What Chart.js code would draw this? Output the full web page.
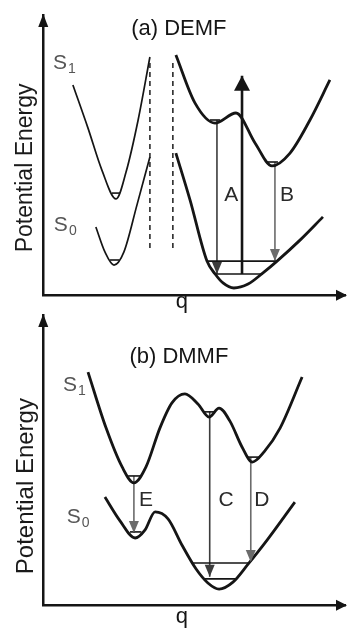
<!DOCTYPE html>
<html>
<head>
<meta charset="utf-8">
<script src="https://cdn.jsdelivr.net/npm/chart.js@4/dist/chart.umd.min.js"></script>
<style>
  html, body { margin: 0; padding: 0; background: #fff; }
  #page { position: relative; width: 347px; height: 628px; overflow: hidden; }
  .panel { position: absolute; left: 0; width: 347px; height: 320px; }
</style>
</head>
<body>
<div id="page">
  <div class="panel" style="top:0"><canvas id="demf"></canvas></div>
  <div class="panel" style="top:308px"><canvas id="dmmf"></canvas></div>
</div>
<script>
// ---- (a) DEMF : q (0-100) vs potential energy (0-100), arbitrary units ----
const aS1LeftQ = [9.9, 14.9, 19.5, 24.2, 27.5, 31.5, 35.4];
const aS1LeftE = [75.0, 59.6, 44.6, 34.3, 43.9, 62.5, 85.0];
const aS0LeftQ = [17.5, 20.5, 23.5, 26.8, 31.1, 35.4];
const aS0LeftE = [24.3, 15.4, 10.7, 15.4, 32.1, 49.3];
const aS1RightQ = [44.0, 50.3, 56.95, 63.9, 70.2, 75.8, 81.8, 88.4, 95.0];
const aS1RightE = [85.7, 68.6, 61.4, 65.0, 54.3, 46.1, 50.7, 62.5, 76.8];
const aS0RightQ = [44.0, 48.7, 54.3, 57.0, 59.6, 63.2, 67.9, 72.85, 77.5, 85.1, 92.7];
const aS0RightE = [50.7, 33.9, 12.1, 7.5, 4.3, 2.5, 3.9, 7.9, 12.1, 19.6, 27.9];
const aBarrierQ = [35.4, 43.0];            // dashed separators
const aBarrierE = [16.8, 82.9];
// vibrational levels: energy, from q, to q
const aLevelE = [36.4, 12.5, 62.5, 47.5, 12.1, 7.5];
const aLevelFrom = [22.8, 22.2, 55.3, 74.0, 54.3, 57.0];
const aLevelTo = [25.5, 25.2, 58.6, 77.8, 77.5, 72.85];
// emission arrows A, B
const aDropLabels = ['A', 'B'];
const aDropQ = [57.6, 76.8];
const aDropFrom = [62.5, 47.5];
const aDropTo = [7.5, 12.1];
// excitation arrow
const aPumpQ = [65.9];
const aPumpFrom = [7.5];
const aPumpTo = [78.3];

// ---- (b) DMMF ----
const bS1Q = [14.9, 20.9, 26.2, 30.1, 34.1, 38.7, 42.7, 47.0, 51.3, 55.0, 58.3, 61.9, 65.9, 69.3, 73.2, 78.5, 85.8];
const bS1E = [80.3, 61.0, 47.6, 42.1, 47.6, 61.0, 69.7, 72.8, 69.3, 64.8, 67.9, 63.4, 54.5, 49.3, 52.8, 61.0, 78.6];
const bS0Q = [20.5, 25.5, 30.5, 33.8, 37.1, 41.4, 46.0, 50.7, 54.6, 58.3, 62.9, 67.9, 74.2, 83.4];
const bS0E = [37.2, 29.0, 23.1, 25.9, 32.1, 29.7, 20.7, 12.4, 7.6, 5.5, 7.9, 14.1, 22.4, 35.5];
const bLevelE = [44.5, 25.2, 66.6, 51.0, 14.5, 9.0];
const bLevelFrom = [28.2, 28.8, 53.4, 67.9, 49.7, 53.5];
const bLevelTo = [32.2, 32.6, 56.8, 71.5, 68.5, 64.0];
const bDropLabels = ['E', 'C', 'D'];
const bDropQ = [30.1, 55.2, 68.8];
const bDropFrom = [44.5, 66.6, 51.0];
const bDropTo = [24.8, 9.7, 14.8];

const INK = '#151515';
const DARK = '#3c3c3c';
const GREY = '#6b6b6b';
const FONT = '"Liberation Sans", Arial, sans-serif';

const pts = (qs, es) => qs.map((q, i) => ({ x: q, y: es[i] }));

function curve(qs, es, width) {
  return { data: pts(qs, es), borderColor: INK, borderWidth: width, cubicInterpolationMode: 'monotone', showLine: true };
}
function segment(q0, e0, q1, e1, color, width, extra) {
  return Object.assign({ data: [{ x: q0, y: e0 }, { x: q1, y: e1 }], borderColor: color, borderWidth: width, showLine: true }, extra || {});
}
function levels(es, from, to) {
  return es.map((e, i) => segment(from[i], e, to[i], e, INK, 1.6));
}

function drawHead(ctx, x0, y0, x1, y1, w, h, color) {
  const a = Math.atan2(y1 - y0, x1 - x0);
  ctx.save();
  ctx.translate(x1, y1);
  ctx.rotate(a);
  ctx.beginPath();
  ctx.moveTo(0, 0);
  ctx.lineTo(-h, w / 2);
  ctx.lineTo(-h, -w / 2);
  ctx.closePath();
  ctx.fillStyle = color;
  ctx.fill();
  ctx.restore();
}

// arrow heads on flagged datasets and on both axes
const arrowPlugin = {
  id: 'arrowHeads',
  afterDatasetsDraw(chart) {
    const ctx = chart.ctx;
    chart.data.datasets.forEach((ds, i) => {
      if (!ds.head) return;
      const p = chart.getDatasetMeta(i).data;
      const tip = p[p.length - 1], prev = p[p.length - 2];
      drawHead(ctx, prev.x, prev.y, tip.x, tip.y, ds.head[0], ds.head[1], ds.borderColor);
    });
    const a = chart.chartArea;
    drawHead(ctx, a.left + 0.25, a.bottom, a.left + 0.25, a.top - 1, 10, 13, INK);
    drawHead(ctx, a.left, a.bottom + 0.25, a.right + 2, a.bottom + 0.25, 11, 11, INK);
  }
};

// text placed in data units
const textPlugin = {
  id: 'sketchText',
  afterDraw(chart, args, opts) {
    const { ctx, scales: { x, y } } = chart;
    opts.items.forEach(it => {
      ctx.save();
      ctx.translate(x.getPixelForValue(it.q), y.getPixelForValue(it.e));
      if (it.rotate) ctx.rotate(it.rotate * Math.PI / 180);
      ctx.fillStyle = it.color || INK;
      ctx.font = it.size + 'px ' + FONT;
      ctx.textBaseline = 'middle';
      if (it.sub) {
        ctx.textAlign = 'left';
        ctx.fillText(it.text, 0, 0);
        const w = ctx.measureText(it.text).width;
        ctx.font = Math.round(it.size * 0.68) + 'px ' + FONT;
        ctx.fillText(it.sub, w + 1, it.size * 0.3);
      } else {
        ctx.textAlign = 'center';
        ctx.fillText(it.text, 0, 0);
      }
      ctx.restore();
    });
  }
};

function axis() {
  return {
    type: 'linear', min: 0, max: 100,
    ticks: { display: false },
    grid: { display: false, drawTicks: false },
    border: { color: INK, width: 2.5 }
  };
}

function makeChart(id, datasets, items, pad) {
  return new Chart(document.getElementById(id), {
    type: 'scatter',
    data: { datasets: datasets.map(d => Object.assign({ pointRadius: 0, pointHoverRadius: 0, clip: false }, d)) },
    options: {
      responsive: true,
      maintainAspectRatio: false,
      animation: false,
      events: [],
      layout: { padding: pad },
      plugins: {
        legend: { display: false },
        tooltip: { enabled: false },
        sketchText: { items: items }
      },
      scales: { x: axis(), y: axis() }
    },
    plugins: [arrowPlugin, textPlugin]
  });
}

// ---- panel (a) ----
const aSets = [
  curve(aS1LeftQ, aS1LeftE, 1.7),
  curve(aS0LeftQ, aS0LeftE, 1.7),
  curve(aS1RightQ, aS1RightE, 2.8),
  curve(aS0RightQ, aS0RightE, 2.8),
  ...aBarrierQ.map(q => segment(q, aBarrierE[0], q, aBarrierE[1], '#2a2a2a', 1.6, { borderDash: [5, 4] })),
  ...levels(aLevelE, aLevelFrom, aLevelTo),
  ...aDropQ.map((q, i) => segment(q, aDropFrom[i], q, aDropTo[i], i === 0 ? DARK : GREY, 1.6, { head: [10, 12] })),
  segment(aPumpQ[0], aPumpFrom[0], aPumpQ[0], aPumpTo[0], INK, 2.6, { head: [16, 15] })
];
const aText = [
  { text: '(a) DEMF', q: 45.0, e: 95.0, size: 22 },
  { text: 'Potential Energy', q: -5.6, e: 45.4, size: 23, rotate: -90, color: '#1a1a1a' },
  { text: 'q', q: 46.0, e: -2.5, size: 22 },
  { text: 'S', sub: '1', q: 3.3, e: 82.9, size: 21, color: '#555' },
  { text: 'S', sub: '0', q: 3.6, e: 25.0, size: 21, color: '#555' },
  ...aDropLabels.map((t, i) => ({ text: t, q: [62.3, 80.8][i], e: 35.7, size: 21, color: '#2a2a2a' }))
];
makeChart('demf', aSets, aText, { left: 43, top: 15, right: 2, bottom: 25 });

// ---- panel (b) ----
const bSets = [
  curve(bS1Q, bS1E, 2.8),
  curve(bS0Q, bS0E, 2.8),
  ...levels(bLevelE, bLevelFrom, bLevelTo),
  ...bDropQ.map((q, i) => segment(q, bDropFrom[i], q, bDropTo[i], i === 1 ? DARK : GREY, 1.6, { head: [10, 12] }))
];
const bText = [
  { text: '(b) DMMF', q: 45.0, e: 85.5, size: 22 },
  { text: 'Potential Energy', q: -5.6, e: 41.0, size: 24, rotate: -90, color: '#1a1a1a' },
  { text: 'q', q: 46.0, e: -4.1, size: 22 },
  { text: 'S', sub: '1', q: 6.6, e: 75.9, size: 21, color: '#555' },
  { text: 'S', sub: '0', q: 7.9, e: 30.3, size: 21, color: '#555' },
  ...bDropLabels.map((t, i) => ({ text: t, q: [34.1, 60.6, 72.5][i], e: 36.2, size: 21, color: '#2a2a2a' }))
];
makeChart('dmmf', bSets, bText, { left: 43, top: 7, right: 2, bottom: 23 });
</script>
</body>
</html>
